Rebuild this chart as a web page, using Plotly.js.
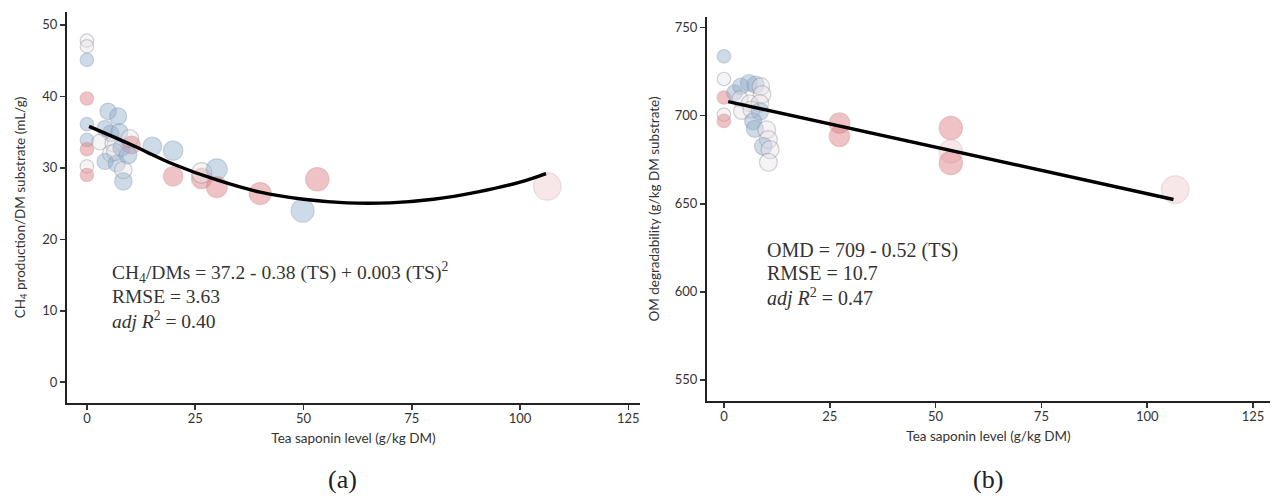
<!DOCTYPE html>
<html>
<head>
<meta charset="utf-8">
<script src="https://cdn.plot.ly/plotly-3.0.1.min.js"></script>
<style>html,body{margin:0;padding:0;background:#fff;}#chart{width:1272px;height:496px;}</style>
</head>
<body>
<div id="chart"></div>
<script>
// ---------- Panel (a): CH4 production ----------
const aX = [0, 0, 0, 0, 0, 0, 0, 0, 0,
            4.9, 7.2, 4.2, 5.5, 7.5, 3.0, 6.1, 5.5, 6.5, 8.0, 9.9, 10.3, 4.2, 6.9, 8.4, 8.4, 9.5,
            15.1, 19.9, 19.9, 26.5, 26.5, 30.0, 30.0, 40.0, 49.8, 53.2, 106.3];
const aY = [47.8, 47.0, 45.1, 39.7, 36.1, 33.9, 32.6, 30.2, 29.0,
            37.9, 37.2, 35.5, 34.8, 35.0, 33.6, 33.4, 32.0, 32.2, 32.8, 34.1, 33.2, 30.9, 30.6, 29.7, 28.1, 31.8,
            33.0, 32.4, 28.8, 28.5, 29.3, 29.8, 27.3, 26.4, 24.0, 28.4, 27.4];
const aGroup = ['white', 'white', 'blue', 'red', 'blue', 'blue', 'red', 'white', 'red',
                'blue', 'blue', 'blue', 'blue', 'blue', 'white', 'white', 'white', 'white', 'blue', 'white', 'red', 'blue', 'blue', 'white', 'blue', 'blue',
                'blue', 'blue', 'red', 'red', 'white', 'blue', 'red', 'red', 'blue', 'red', 'pink'];
// fitted curve
const aFitX = [0.5, 10, 20, 30, 40, 50, 60, 70, 80, 90, 100, 106];
const aFitY = [35.8, 33.3, 30.5, 28.3, 26.6, 25.6, 25.1, 25.1, 25.6, 26.6, 28.0, 29.2];

// ---------- Panel (b): OM degradability ----------
const bX = [0, 0, 0, 0, 0,
            2.5, 4.0, 5.9, 7.5, 8.7, 9.0, 3.8, 6.1, 8.5, 4.2, 6.5, 8.5, 6.9, 7.3, 10.1, 10.5, 9.3, 10.9, 10.5,
            27.3, 27.3, 53.6, 53.6, 53.6, 106.6];
const bY = [733.7, 720.8, 710.3, 700.6, 697.0,
            713.0, 716.7, 718.6, 717.5, 716.5, 712.0, 709.5, 707.0, 707.0, 702.5, 703.4, 702.4, 696.8, 692.5, 692.0, 686.4, 682.6, 680.7, 673.5,
            695.8, 688.3, 693.0, 679.7, 673.1, 658.0];
const bGroup = ['blue', 'white', 'red', 'white', 'red',
                'blue', 'blue', 'blue', 'blue', 'white', 'white', 'white', 'white', 'white', 'white', 'white', 'blue', 'blue', 'blue', 'white', 'white', 'blue', 'white', 'white',
                'red', 'red', 'red', 'pink', 'red', 'pink'];
const bFitX = [1.0, 106.2];
const bFitY = [708.0, 652.4];

const xTicks = [0, 25, 50, 75, 100, 125];
const aYTicks = [0, 10, 20, 30, 40, 50];
const bYTicks = [550, 600, 650, 700, 750];

const xTitle = 'Tea saponin level (g/kg DM)';
const aYTitle = 'CH<sub>4</sub> production/DM substrate (mL/g)';
const bYTitle = 'OM degradability (g/kg DM substrate)';
const aEq = ['CH<sub>4</sub>/DMs = 37.2 - 0.38 (TS) + 0.003 (TS)<sup>2</sup>', 'RMSE = 3.63', '<i>adj R</i><sup>2</sup> = 0.40'];
const bEq = ['OMD = 709 - 0.52 (TS)', 'RMSE = 10.7', '<i>adj R</i><sup>2</sup> = 0.47'];

// ---------- styling ----------
const fill = {red: 'rgba(222,128,132,0.66)', blue: 'rgba(146,174,204,0.64)', white: 'rgba(232,226,232,0.6)', pink: 'rgba(244,214,218,0.8)'};
const edge = {red: 'rgba(200,120,125,0.5)', blue: 'rgba(125,145,172,0.55)', white: 'rgba(130,130,140,0.5)', pink: 'rgba(205,178,183,0.6)'};
const sizeOf = x => 13.5 + 1.35 * Math.sqrt(x);

function bubbles(xs, ys, gs, xa, ya) {
  return {
    x: xs, y: ys, xaxis: xa, yaxis: ya, type: 'scatter', mode: 'markers', hoverinfo: 'x+y',
    marker: {
      size: xs.map(sizeOf),
      color: gs.map(g => fill[g]),
      line: {color: gs.map(g => edge[g]), width: 1.2}
    },
    showlegend: false
  };
}
function fitLine(xs, ys, xa, ya, shape) {
  return {x: xs, y: ys, xaxis: xa, yaxis: ya, type: 'scatter', mode: 'lines',
          line: {color: '#000', width: 3.4, shape: shape, smoothing: 1}, hoverinfo: 'skip', showlegend: false};
}

const data = [
  bubbles(aX, aY, aGroup, 'x', 'y'),
  fitLine(aFitX, aFitY, 'x', 'y', 'spline'),
  bubbles(bX, bY, bGroup, 'x2', 'y2'),
  fitLine(bFitX, bFitY, 'x2', 'y2', 'linear')
];

const tickFont = {family: 'Lato, "Open Sans", sans-serif', size: 13, color: '#333'};
const titleFont = {family: 'Lato, "Open Sans", sans-serif', size: 13.5, color: '#333'};
function axisBase() {
  return {showgrid: false, zeroline: false, showline: true, linecolor: '#222', linewidth: 2,
          ticks: 'outside', ticklen: 5, tickwidth: 1.6, tickcolor: '#333', tickfont: tickFont,
          automargin: false, fixedrange: true};
}
const W = 1272, H = 496;
const layout = {
  width: W, height: H,
  margin: {l: 0, r: 0, t: 0, b: 0},
  paper_bgcolor: '#fff', plot_bgcolor: '#fff',
  xaxis: Object.assign(axisBase(), {domain: [67 / W, 640 / W], range: [-4.6, 127.7], tickvals: xTicks,
          ticklabelstandoff: -3, title: {text: xTitle, font: titleFont, standoff: 9}, anchor: 'y'}),
  yaxis: Object.assign(axisBase(), {domain: [(H - 403) / H, (H - 12) / H], range: [-2.9, 51.8], tickvals: aYTicks,
          title: {text: aYTitle, font: titleFont, standoff: 14}, anchor: 'x'}),
  xaxis2: Object.assign(axisBase(), {domain: [707 / W, 1270 / W], range: [-4, 129], tickvals: xTicks,
          ticklabelstandoff: -3, title: {text: xTitle, font: titleFont, standoff: 9}, anchor: 'y2'}),
  yaxis2: Object.assign(axisBase(), {domain: [(H - 401) / H, (H - 17) / H], range: [538, 756], tickvals: bYTicks,
          title: {text: bYTitle, font: titleFont, standoff: 12}, anchor: 'x2'}),
  annotations: []
};
const eqFont = {family: '"Liberation Serif", "DejaVu Serif", serif', size: 19.5, color: '#333'};
const aEqY = [15.3, 12.0, 8.7];
aEq.forEach((t, i) => layout.annotations.push({xref: 'x', yref: 'y', x: 5.3, y: aEqY[i], text: t, showarrow: false,
  xanchor: 'left', yanchor: 'middle', align: 'left', font: eqFont}));
const bEqY = [623.7, 610.4, 596.8];
bEq.forEach((t, i) => layout.annotations.push({xref: 'x2', yref: 'y2', x: 9.7, y: bEqY[i], text: t, showarrow: false,
  xanchor: 'left', yanchor: 'middle', align: 'left', font: Object.assign({}, eqFont, {size: 20})}));
const capFont = {family: '"Liberation Serif", "DejaVu Serif", serif', size: 26, color: '#222'};
layout.annotations.push({xref: 'paper', yref: 'paper', x: 342 / W, y: (H - 479) / H, text: '(a)', showarrow: false, xanchor: 'center', yanchor: 'middle', font: capFont});
layout.annotations.push({xref: 'paper', yref: 'paper', x: 988 / W, y: (H - 479) / H, text: '(b)', showarrow: false, xanchor: 'center', yanchor: 'middle', font: capFont});

Plotly.newPlot('chart', data, layout, {displayModeBar: false, staticPlot: true});
</script>
</body>
</html>
